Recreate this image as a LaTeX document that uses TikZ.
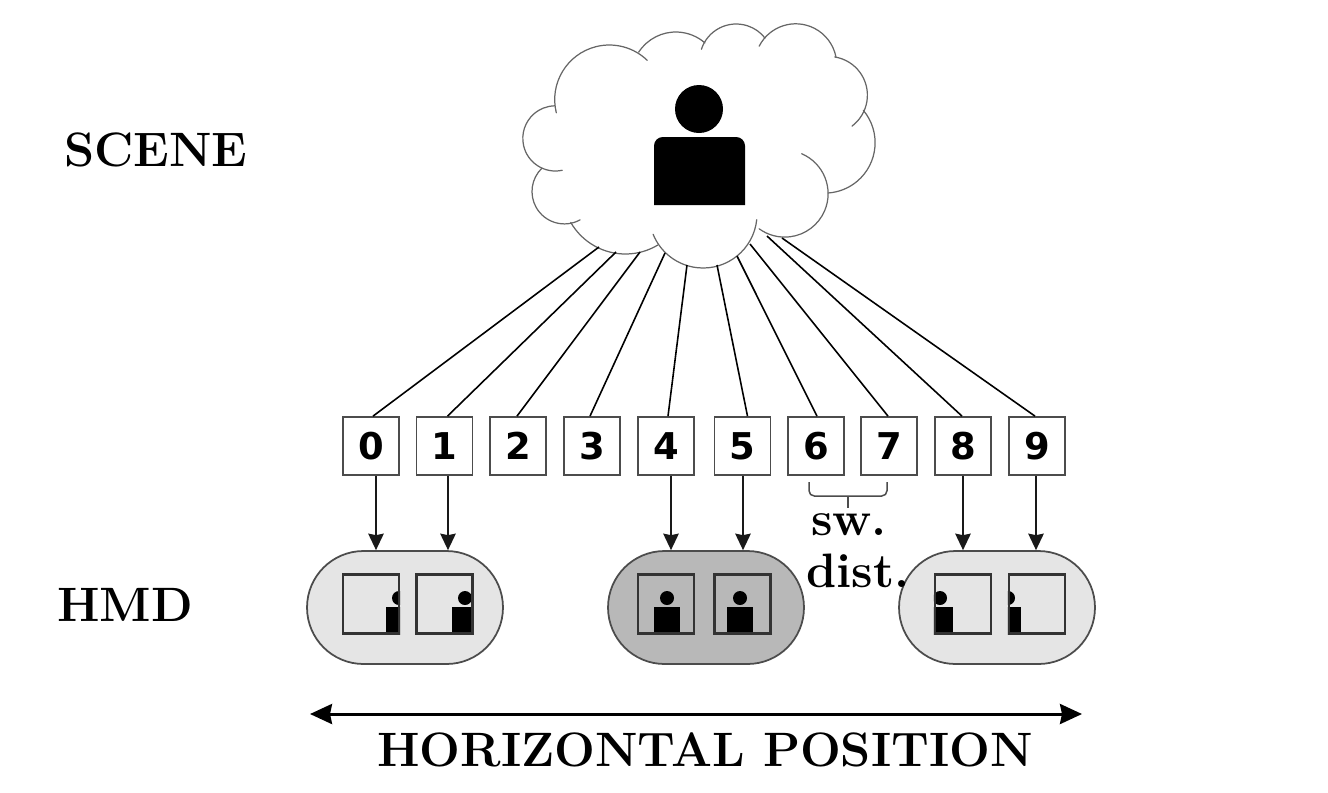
\documentclass[tikz,border=0pt]{standalone}
\usepackage{fontspec}
\usepackage{xcolor}
\usetikzlibrary{arrows.meta, calc, shapes.misc}
\newfontfamily\digitfont{DejaVu Sans}
\definecolor{edgegray}{gray}{0.3}
\def\pxu{0.02cm}
\tikzset{
  captiontext/.style={font=\fontsize{27.5}{27.5}\selectfont\bfseries},
  viewbox/.style={draw=edgegray,line width=1pt,fill=white,minimum width=1.12cm,minimum height=1.16cm,inner sep=0pt,font=\digitfont\bfseries\fontsize{21}{21}\selectfont},
  viewframe/.style={draw=black!80,line width=1.25pt,minimum width=1.12cm,minimum height=1.18cm,inner sep=0pt},
  hmdpill/.style={rounded rectangle,draw=edgegray,line width=1pt,minimum width=3.92cm,minimum height=2.26cm,inner sep=0pt},
  cloudline/.style={draw=black!60,line width=0.7pt,line cap=round},
  rayline/.style={black,line width=0.9pt},
  feedarrow/.style={-{Stealth[length=0.33cm,width=0.31cm,inset=0.03cm]},black!90,line width=0.95pt}
}
\begin{document}
\begin{tikzpicture}[x=0.02cm,y=-0.02cm]
\useasboundingbox (0,0) rectangle (1328,792);
% captions
\node[captiontext] (scenelabel) at (156,150) {SCENE};
\node[captiontext] (hmdlabel) at (125,605) {HMD};
% cloud
\foreach \cx/\cy/\r/\from/\to in {609.3/99.6/54.6/166/314,675.8/76.3/44.3/213/311,736.2/60.6/36.6/198/322,795.7/64.8/41/207/349,828.7/95.2/38.7/279/413,824.7/142.7/50.4/320/446,784.7/193.7/43.4/293/486,703.1/214.1/53.9/6/158,625.4/190.9/63.1/59/150,564.4/191.5/32.4/61/226,555.4/138.4/32.6/78/269} {
    \draw[cloudline] (\cx,\cy) ++(\from:\r) arc (\from:\to:\r);
}
% person in the scene
\fill (699,109) circle (24);
\fill (654,205) [rounded corners=5] -- (654,137) -- (745,137) [sharp corners] -- (745,205) -- cycle;
% numbered views
\foreach \n/\cx in {0/371,1/444.5,2/518,3/592,4/666,5/742.5,6/816,7/889,8/963,9/1037} {
    \node[viewbox] (b\n) at (\cx,446) {\n};
}
% rays from the cloud
\foreach \n/\sx/\sy/\dx in {0/599/247/2,1/616/252/3,2/640/252/-1,3/665/253/-2,4/687/265/2,5/717/265/5,6/737/256/1,7/750/244/-1,8/767/236/-1,9/782/238/-2} {
    \coordinate (s\n) at (\sx,\sy);
    \draw[rayline] (s\n) -- ([xshift=\dx*\pxu]b\n.north);
}
% headsets
\node[hmdpill,fill=black!10] (hmdleft) at (405,607.5) {};
\node[hmdpill,fill=black!28] (hmdmid) at (706,607.5) {};
\node[hmdpill,fill=black!10] (hmdright) at (997,607.5) {};
\foreach \n/\cx/\off in {0/371/28,1/444.5/20.5,4/666/1,5/742.5/-2.5,8/963/-23,9/1037/-29} {
    \node[viewframe] (f\n) at (\cx,604) {};
    \begin{scope}
        \clip (f\n.south west) rectangle (f\n.north east);
        \begin{scope}[shift={(f\n.center)}]
            \fill (\off,-6) circle (7);
            \fill (\off-13,3) rectangle (\off+13,32);
        \end{scope}
    \end{scope}
    \node[viewframe] at (f\n.center) {};
}
\foreach \n/\dx/\pill in {0/5/hmdleft,1/3.5/hmdleft,4/5/hmdmid,5/0.5/hmdmid,8/0/hmdright,9/-1/hmdright} {
    \draw[feedarrow] ([xshift=\dx*\pxu]b\n.south) -- ([xshift=\dx*\pxu]b\n.south |- \pill.north);
}
% switching distance
\coordinate (braceleft) at (809,482);
\coordinate (braceright) at (887,482);
\coordinate (bracetip) at (848,508);
\draw[edgegray,line width=0.85pt,rounded corners=3] (braceleft) -- (809,496) -- (887,496) -- (braceright);
\draw[edgegray,line width=0.85pt] (848,496) -- (bracetip);
\node[captiontext,anchor=base] (swlabel) at (849,535) {sw.};
\node[captiontext,anchor=base] (distlabel) at (858,587) {dist.};
% position axis
\coordinate (axisleft) at (310,714);
\coordinate (axisright) at (1082,714);
\draw[{Stealth[length=0.44cm,width=0.4cm,inset=0.04cm]}-{Stealth[length=0.44cm,width=0.4cm,inset=0.04cm]},line width=1.7pt] (axisleft) -- (axisright);
\node[captiontext] (axislabel) at (705,750) {HORIZONTAL POSITION};
\end{tikzpicture}
\end{document}
